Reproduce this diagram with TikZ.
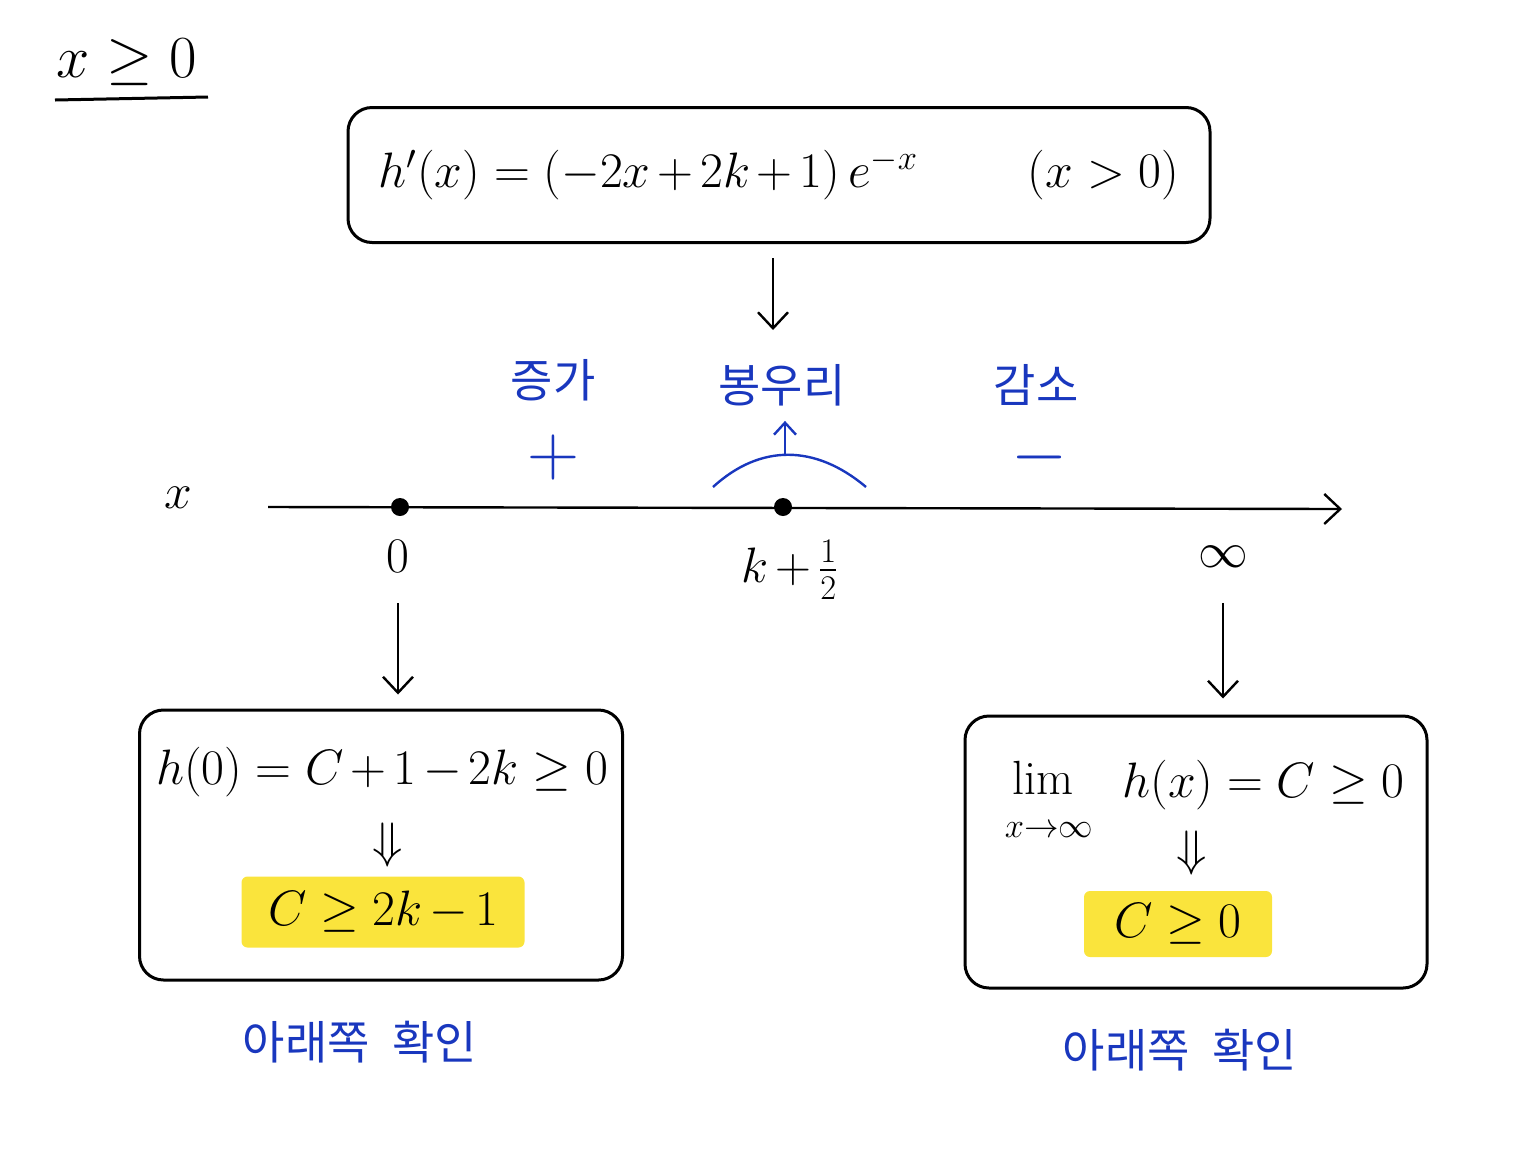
\documentclass[tikz,border=0pt]{standalone}
\usepackage{fontspec}
\usepackage{amsmath}
\usetikzlibrary{arrows.meta,positioning}
\newfontfamily\kr{Noto Sans CJK KR}
\definecolor{penblue}{RGB}{25,55,190}
\definecolor{marker}{RGB}{250,228,60}
\newcommand\tightmath{\medmuskip=2.5mu\relax}

\begin{document}
\begin{tikzpicture}
		[x=0.5pt,y=-0.5pt,
			block/.style ={rectangle, draw, line width=1.5pt, rounded corners=12pt, inner sep=0pt},
 hilite/.style ={rectangle, fill=marker, rounded corners=3pt, inner sep=0pt},
 line/.style ={draw, line width=1.2pt, -{Straight Barb[length=8pt,width=15pt]}},
 bline/.style ={draw=penblue, line width=1.2pt, -{Straight Barb[length=6pt,width=11pt]}},
 big/.style ={font=\fontsize{24}{28}\selectfont\tightmath},
 sign/.style ={text=penblue, font=\fontsize{24}{28}\selectfont, scale=1.45, inner sep=0pt},
 note/.style ={text=penblue, font=\kr\fontsize{23}{27}\selectfont},
 dot/.style ={circle, fill, inner sep=0pt, minimum size=9pt}]
		\useasboundingbox (0,0) rectangle (1536,1152);
		% condition
		\node[big, scale=1.2] (cond) at (127,62) {$x \geq 0$};
		\coordinate (ul1) at (55,100);
		\coordinate (ul2) at (208,97);
		\draw[line width=1.5pt] (ul1) -- (ul2);
		% derivative
		\node[block, big, minimum width=431pt, minimum height=67.5pt] (hbox) at (779,175)
			{$h'(x) = (-2x+2k+1)\,e^{-x} \qquad\; (x>0)$};
		\coordinate (hdown) at (773,330);
		\draw[line, shorten <=7pt] (hbox.south -| hdown) -- (hdown);
		% number line
		\coordinate (xstart) at (268,507);
		\coordinate (xend) at (1342,509);
		\draw[line] (xstart) -- (xend);
		\node[big] (xlab) at (178,498) {$x$};
		\node[dot] (p0) at (400,507) {};
		\node[dot] (pk) at (783,507) {};
		\node[big] (lab0) at (398,556) {$0$};
		\node[big] (labk) at (790,570) {$k+\frac{1}{2}$};
		\node[big] (labinf) at (1223,557) {$\infty$};
		% signs
		\node[note] (inc) at (553,380) {증가};
		\node[sign] (plus) at (553,457) {$+$};
		\node[note] (peak) at (782,385) {봉우리};
		\node[note] (dec) at (1036,385) {감소};
		\node[sign] (minus) at (1040,457) {$-$};
		\coordinate (capl) at (713,487);
		\coordinate (capr) at (866,487);
		\coordinate (captop) at (785,456);
		\draw[penblue, line width=1.2pt] (capl) .. controls (760,444) and (815,444) .. (capr);
		\draw[bline, shorten >=4pt] (captop) -- (peak.south -| captop);
		% left end
		\node[block, minimum width=241.5pt, minimum height=135pt] (lbox) at (381,845) {};
		\node[big] (lform) at (382,772) {$h(0) = C+1-2k \geq 0$};
		\node[big] (limp) at (388,845) {$\Downarrow$};
		\node[hilite, big, minimum width=141.5pt, minimum height=35.5pt] (lres) at (383,912) {$C \geq 2k-1$};
		\draw[line, shorten <=12pt, shorten >=7pt] (lab0) -- (lab0 |- lbox.north);
		\node[note] (lnote) at (360,1042) {아래쪽\enspace 확인};
		% right end
		\node[block, minimum width=231pt, minimum height=136pt] (rbox) at (1196,852) {};
		\node[big, anchor=base, inner sep=0pt] (limop) at (1043,794) {$\lim$};
		\node[font=\fontsize{17}{20}\selectfont, inner sep=0pt] (limsub) at (1049,830) {$x{\to}\infty$};
		\node[big, anchor=base west, inner sep=0pt] (rform) at (1122,797) {$h(x) = C \geq 0$};
		\node[big] (rimp) at (1192,853) {$\Downarrow$};
		\node[hilite, big, minimum width=94pt, minimum height=33pt] (rres) at (1178,924) {$C \geq 0$};
		\draw[line, shorten <=14pt, shorten >=8pt] (labinf) -- (labinf |- rbox.north);
		\node[note] (rnote) at (1180,1050) {아래쪽\enspace 확인};
	\end{tikzpicture}
\end{document}
